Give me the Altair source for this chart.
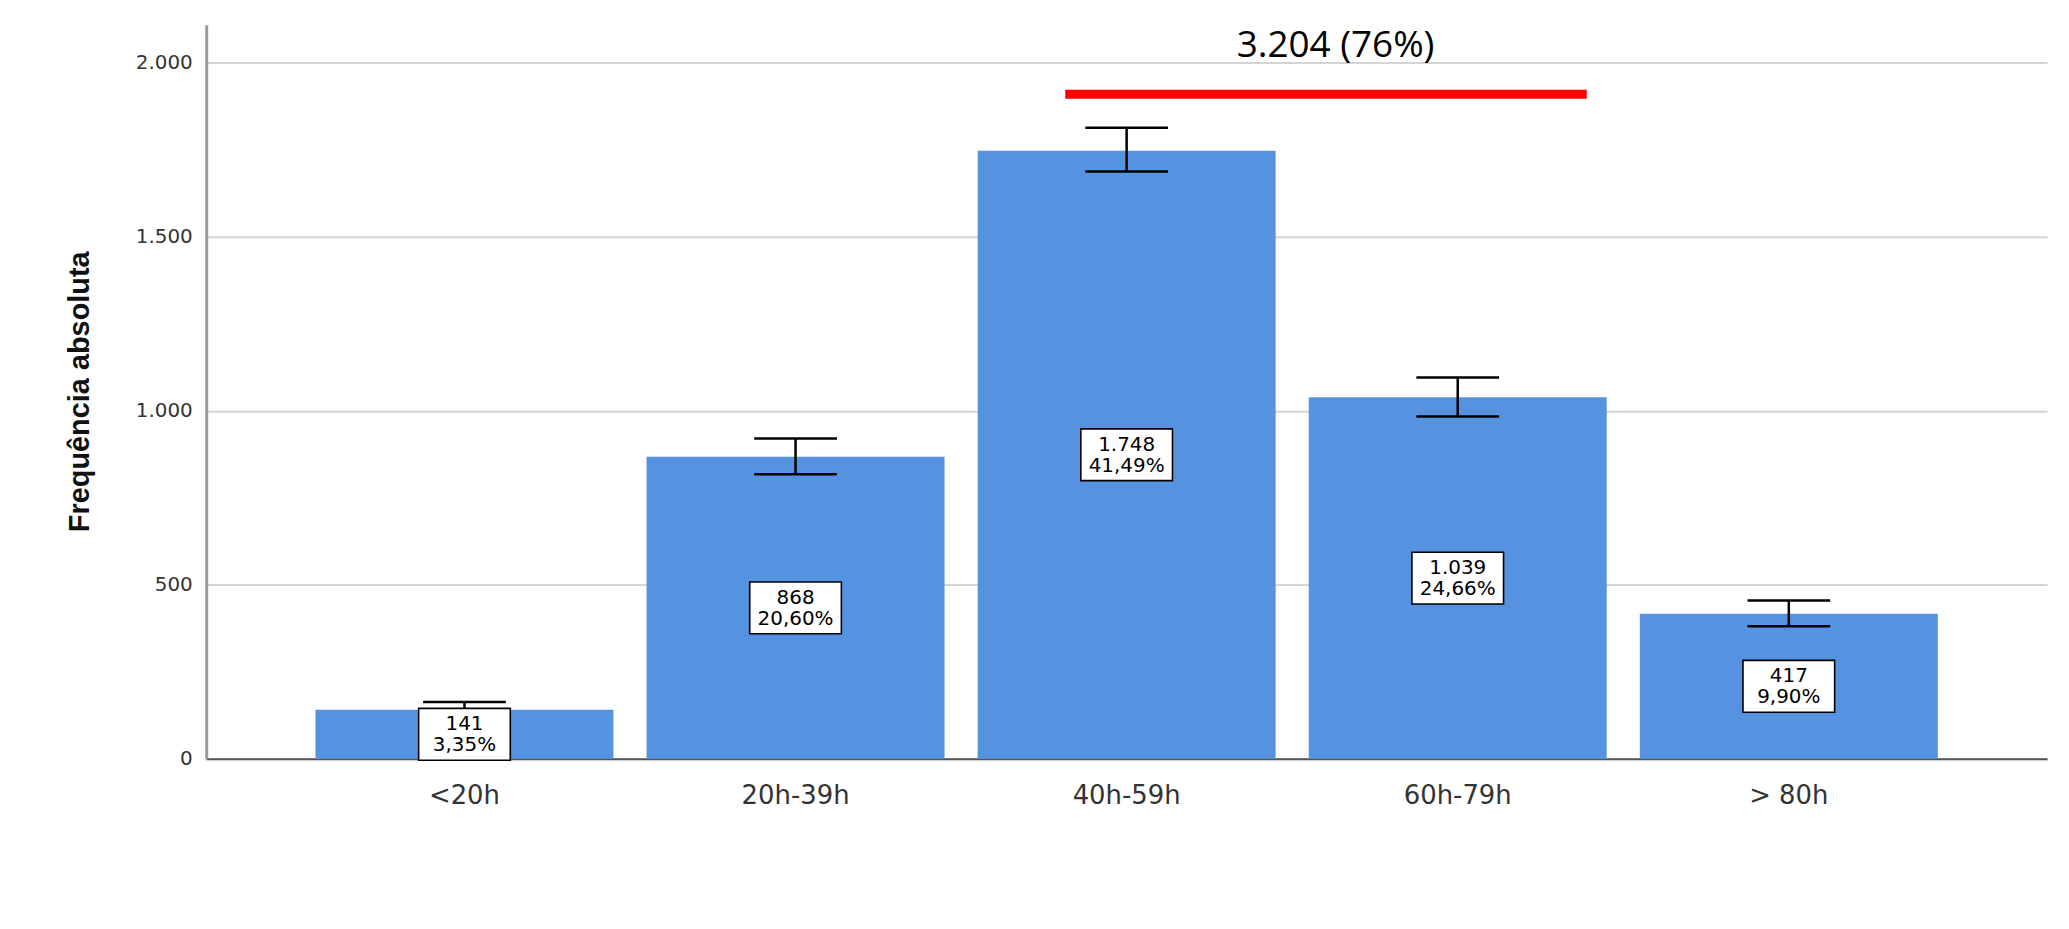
import altair as alt
import pandas as pd

# ---- data ----
categories = ["<20h", "20h-39h", "40h-59h", "60h-79h", "> 80h"]
counts = [141, 868, 1748, 1039, 417]
percents = [3.35, 20.60, 41.49, 24.66, 9.90]
ci_low = [120, 818, 1688, 984, 381]
ci_high = [163, 921, 1814, 1096, 455]
y_ticks = [0, 500, 1000, 1500, 2000]

# highlighted group (40h and more)
group_cats = ["40h-59h", "60h-79h", "> 80h"]
annot_line_level = 1910
annot_text_level = 2050


def br_int(v):
    return f"{v:,}".replace(",", ".")


def br_pct(p):
    return f"{p:.2f}".replace(".", ",") + "%"


df = pd.DataFrame({
    "cat": categories,
    "count": counts,
    "lo": ci_low,
    "hi": ci_high,
    "mid": [c / 2 for c in counts],
    "count_label": [br_int(c) for c in counts],
    "pct_label": [br_pct(p) for p in percents],
})

g_total = sum(counts[categories.index(c)] for c in group_cats)
g_pct = sum(percents[categories.index(c)] for c in group_cats)
annot = pd.DataFrame({
    "start": ["40h-59h"],
    "end": ["60h-79h"],
    "line_y": [annot_line_level],
    "text_y": [annot_text_level],
    "label": [f"{br_int(g_total)} ({round(g_pct)}%)"],
})

x_scale = alt.Scale(domain=categories, paddingInner=0.1, paddingOuter=0.33)
y_scale = alt.Scale(domain=[0, 2110], nice=False, zero=True)

x_enc = alt.X(
    "cat:N", sort=categories, scale=x_scale,
    axis=alt.Axis(
        title=None, labelAngle=0, ticks=False, grid=False,
        labelFont="DejaVu Sans", labelFontSize=26, labelColor="#333333",
        labelPadding=24, domainColor="#555555", domainWidth=2,
    ),
)

y_axis = alt.Axis(
    values=y_ticks, title="Frequência absoluta",
    titleFont="Liberation Sans Narrow, Arial Narrow, Liberation Sans",
    titleFontSize=29, titleFontWeight="bold", titleColor="#111111",
    titleX=-127, titleY=368, titleAngle=270,
    titleAlign="center", titleBaseline="middle",
    ticks=False, labelPadding=14,
    labelFont="DejaVu Sans", labelFontSize=20, labelColor="#333333",
    labelExpr="replace(format(datum.value, ','), ',', '.')",
    domainColor="#999999", domainWidth=3,
    gridColor="#d4d4d4", gridWidth=2,
)

bars = alt.Chart(df).mark_bar(color="#5592E0").encode(
    x=x_enc,
    y=alt.Y("count:Q", scale=y_scale, axis=y_axis),
)

err_rule = alt.Chart(df).mark_rule(color="black", strokeWidth=2.5).encode(
    x=alt.X("cat:N", sort=categories),
    y="lo:Q", y2="hi:Q",
)
cap_lo = alt.Chart(df).mark_tick(color="black", thickness=2.5, size=83, opacity=1).encode(
    x=alt.X("cat:N", sort=categories), y="lo:Q",
)
cap_hi = alt.Chart(df).mark_tick(color="black", thickness=2.5, size=83, opacity=1).encode(
    x=alt.X("cat:N", sort=categories), y="hi:Q",
)

box_path = "M-1,-0.565H1V0.565H-1Z"
boxes = alt.Chart(df).mark_point(
    shape=box_path, size=92 * 92, filled=True, fill="white",
    stroke="black", strokeWidth=1.6, opacity=1,
).encode(x=alt.X("cat:N", sort=categories), y="mid:Q")

txt_count = alt.Chart(df).mark_text(
    font="DejaVu Sans", fontSize=20, color="black", dy=-10, baseline="middle",
).encode(x=alt.X("cat:N", sort=categories), y="mid:Q", text="count_label:N")

txt_pct = alt.Chart(df).mark_text(
    font="DejaVu Sans", fontSize=20, color="black", dy=11, baseline="middle",
).encode(x=alt.X("cat:N", sort=categories), y="mid:Q", text="pct_label:N")

red_line = alt.Chart(annot).mark_rule(color="#FF0000", strokeWidth=9).encode(
    x=alt.X("start:N", bandPosition=0.294),
    x2=alt.X2("end", bandPosition=0.933),
    y="line_y:Q",
)

annot_text = alt.Chart(annot).mark_text(
    font="Open Sans", fontSize=37, color="black", baseline="middle",
).encode(
    x=alt.X("end:N", bandPosition=0.09),
    y="text_y:Q",
    text="label:N",
)

chart = alt.layer(
    bars, err_rule, cap_lo, cap_hi, boxes, txt_count, txt_pct, red_line, annot_text
).properties(
    width=1848, height=737, background="white",
    autosize=alt.AutoSizeParams(type="none"),
    padding={"left": 199, "top": 15, "right": 14, "bottom": 150},
).configure_view(stroke=None)

chart.save("out.html", embed_options={"renderer": "svg", "actions": False})
